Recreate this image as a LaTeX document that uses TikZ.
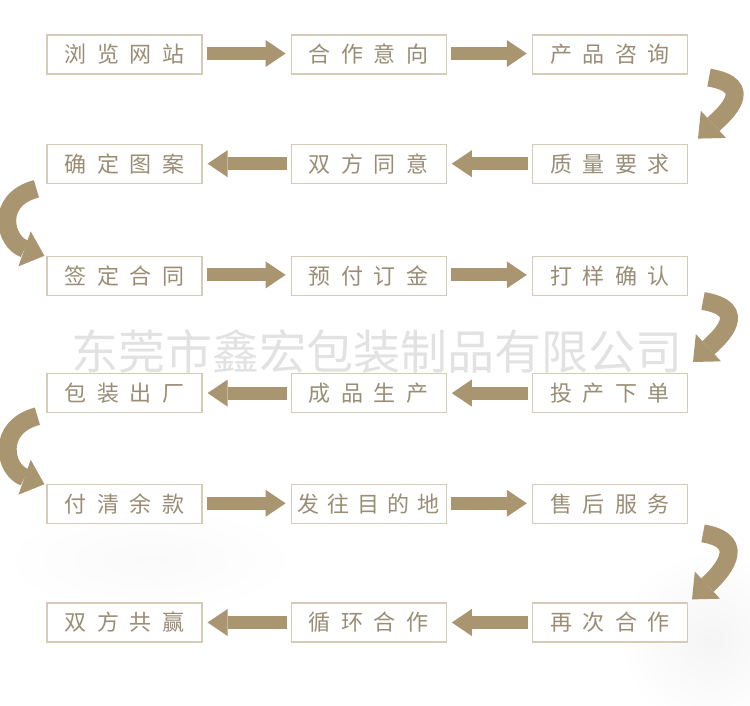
\documentclass[tikz,border=0pt]{standalone}
\usepackage{fontspec}
\usepackage{tikz}
\usetikzlibrary{arrows.meta,positioning,calc}
\newfontfamily\cjk[LetterSpace=48]{Noto Sans CJK SC}
\newfontfamily\cjktight[LetterSpace=36]{Noto Sans CJK SC}
\newfontfamily\cjkplain{Noto Sans CJK SC}
\definecolor{XhTan}{HTML}{A99570}
\definecolor{XhLine}{HTML}{D4CBB8}
\definecolor{XhInk}{HTML}{9A8D76}
\definecolor{XhMark}{HTML}{E2E2E2}

\begin{document}
\begin{tikzpicture}[
    x=1pt, y=1pt,
    box/.style={draw=XhLine, line width=1.2pt, fill=white, minimum width=155pt,
      minimum height=39pt, inner sep=0pt, text=XhInk,
      font={\cjk\fontsize{22pt}{22pt}\selectfont}},
    longbox/.style={box, font={\cjktight\fontsize{22pt}{22pt}\selectfont}},
    flow/.style={-{Triangle[length=20pt,width=27pt,line width=0pt]}, line width=13pt, draw=XhTan},
    turn/.style={-{Triangle[length=21pt,width=37pt,line width=0pt]}, line width=18pt, draw=XhTan},
    watermark/.style={text=XhMark, inner sep=0pt,
      font={\cjkplain\fontsize{47pt}{47pt}\selectfont}}
  ]
    \useasboundingbox (0,0) rectangle (750,-706);
    \fill[white] (0,0) rectangle (750,-706);
    \shade[inner color=black!4, outer color=white] (710,-640) circle (90);
    \shade[inner color=black!2, outer color=white] (150,-560) ellipse (150 and 55);

    % row 1
    \node[box] (r1c1) at (124.5,-54.5) {浏览网站};
    \node[box, right=88pt of r1c1] (r1c2) {合作意向};
    \node[box, right=85pt of r1c2] (r1c3) {产品咨询};
    % row 2
    \node[box, below=69pt of r1c1] (r2c1) {确定图案};
    \node[box, right=88pt of r2c1] (r2c2) {双方同意};
    \node[box, right=85pt of r2c2] (r2c3) {质量要求};
    % row 3
    \node[box, below=72pt of r2c1] (r3c1) {签定合同};
    \node[box, right=88pt of r3c1] (r3c2) {预付订金};
    \node[box, right=85pt of r3c2] (r3c3) {打样确认};
    % row 4
    \node[box, below=77pt of r3c1] (r4c1) {包装出厂};
    \node[box, right=88pt of r4c1] (r4c2) {成品生产};
    \node[box, right=85pt of r4c2] (r4c3) {投产下单};
    % row 5
    \node[box, below=71pt of r4c1] (r5c1) {付清余款};
    \node[longbox, right=88pt of r5c1] (r5c2) {发往目的地};
    \node[box, right=85pt of r5c2] (r5c3) {售后服务};
    % row 6
    \node[box, below=78pt of r5c1] (r6c1) {双方共赢};
    \node[box, right=88pt of r6c1] (r6c2) {循环合作};
    \node[box, right=85pt of r6c2] (r6c3) {再次合作};

    \node[watermark] (wm) at (377,-352) {东莞市鑫宏包装制品有限公司};

    \draw[flow] ($(r1c1.east)+(4,1)$) -- ($(r1c2.west)+(-5,1)$);
    \draw[flow] ($(r1c2.east)+(4,1)$) -- ($(r1c3.west)+(-5,1)$);
    \draw[turn] ($(r1c3.south east)+(21,-3)$) .. controls +(48,-8) and +(27,25) .. ($(r2c3.north east)+(10,5)$);
    \draw[flow] ($(r2c3.west)+(-4,0)$) -- ($(r2c2.east)+(5,0)$);
    \draw[flow] ($(r2c2.west)+(-4,0)$) -- ($(r2c1.east)+(5,0)$);
    \draw[turn] ($(r2c1.south west)+(-10,-5)$) .. controls +(-42,-11) and +(-40,14) .. ($(r3c1.north west)+(-2,0)$);
    \draw[flow] ($(r3c1.east)+(4,1)$) -- ($(r3c2.west)+(-5,1)$);
    \draw[flow] ($(r3c2.east)+(4,1)$) -- ($(r3c3.west)+(-5,1)$);
    \draw[turn] ($(r3c3.south east)+(15,-5)$) .. controls +(48,-8) and +(27,25) .. ($(r4c3.north east)+(5,11)$);
    \draw[flow] ($(r4c3.west)+(-4,0)$) -- ($(r4c2.east)+(5,0)$);
    \draw[flow] ($(r4c2.west)+(-4,0)$) -- ($(r4c1.east)+(5,0)$);
    \draw[turn] ($(r4c1.south west)+(-9,-3)$) .. controls +(-42,-11) and +(-40,14) .. ($(r5c1.north west)+(-2,0)$);
    \draw[flow] ($(r5c1.east)+(4,1)$) -- ($(r5c2.west)+(-5,1)$);
    \draw[flow] ($(r5c2.east)+(4,1)$) -- ($(r5c3.west)+(-5,1)$);
    \draw[turn] ($(r5c3.south east)+(15,-9)$) .. controls +(48,-8) and +(27,25) .. ($(r6c3.north east)+(4,3)$);
    \draw[flow] ($(r6c3.west)+(-4,0)$) -- ($(r6c2.east)+(5,0)$);
    \draw[flow] ($(r6c2.west)+(-4,0)$) -- ($(r6c1.east)+(5,0)$);
  \end{tikzpicture}
\end{document}
